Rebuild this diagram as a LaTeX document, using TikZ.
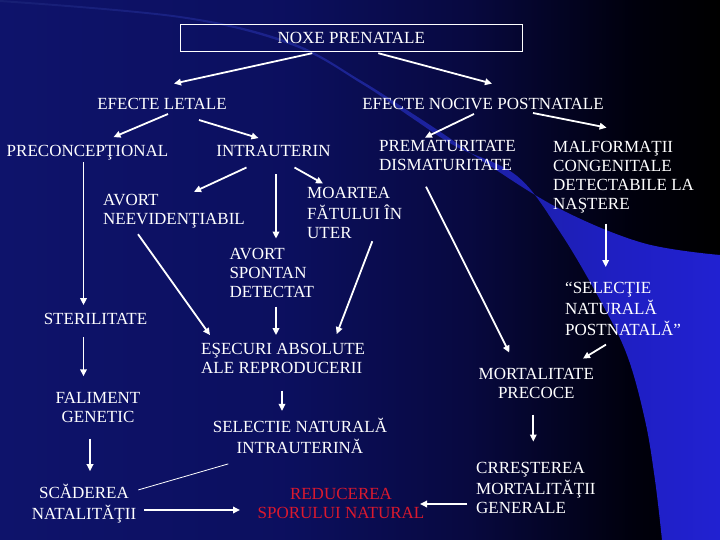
\documentclass[tikz,border=0pt]{standalone}
\usepackage{fontspec}
\setmainfont{Liberation Serif}
\usetikzlibrary{arrows.meta}
\definecolor{redtxt}{rgb}{0.86,0.10,0.18}
\pgfdeclarehorizontalshading{bgsh}{100bp}{rgb(0bp)=(0.055,0.075,0.42); rgb(25bp)=(0.055,0.075,0.42); rgb(45bp)=(0.045,0.06,0.37); rgb(57.5bp)=(0.03,0.035,0.25); rgb(69bp)=(0.0,0.0,0.05); rgb(75bp)=(0,0,0); rgb(100bp)=(0,0,0)}
\pgfdeclarehorizontalshading{bandsh}{100bp}{rgb(0bp)=(0.09,0.12,0.45); rgb(25bp)=(0.09,0.12,0.45); rgb(50bp)=(0.11,0.14,0.58); rgb(57.5bp)=(0.11,0.13,0.64); rgb(67.5bp)=(0.12,0.12,0.76); rgb(75bp)=(0.13,0.13,0.82); rgb(100bp)=(0.13,0.13,0.82)}
\begin{document}
\begin{tikzpicture}[x=1pt,y=-1pt,
  lbl/.style={text=white, font=\fontsize{17}{19}\selectfont, inner sep=0pt},
  lft/.style={lbl, align=left, anchor=west},
  ctr/.style={lbl, align=center},
  arr/.style={draw=white, line width=1.8pt, -{Triangle[length=7pt,width=6.5pt]}},
  thin/.style={draw=white, line width=0.8pt}]
\useasboundingbox (0,0) rectangle (720,540);
% background
\shade[shading=bgsh] (0,0) rectangle (720,540);
\shade[shading=bandsh] plot[smooth, tension=0.6] coordinates {(0,0) (180,16) (290,42) (360,80) (410,112) (445,135) (487,164) (560,209) (643,243) (720,255)}
  -- (720,540) -- plot[smooth, tension=0.6] coordinates {(662,540) (655,480) (645,420) (627,355) (600,300) (560,232) (517,176) (455,146) (412,118) (362,84) (291,45) (180,18) (0,2)} -- cycle;
% nodes
\node[lbl, draw=white, line width=0.8pt, minimum width=342pt, minimum height=27.6pt] (noxe) at (351.3,38) {NOXE PRENATALE};
\node[lbl] (el) at (162,105.3) {\strut EFECTE LETALE};
\node[lbl] (en) at (483,105.3) {\strut EFECTE NOCIVE POSTNATALE};
\node[lbl] (pre) at (87.5,152.8) {\strut PRECONCEPŢIONAL};
\node[lbl] (intra) at (273.5,152.8) {\strut INTRAUTERIN};
\node[lft] (prem) at (379,156.8) {\strut PREMATURITATE\\\strut DISMATURITATE};
\node[lft] (malf) at (553,176.8) {\strut MALFORMAŢII\\\strut CONGENITALE\\\strut DETECTABILE LA\\\strut NAŞTERE};
\node[lft] (aneev) at (103,211) {\strut AVORT\\\strut NEEVIDENŢIABIL};
\node[lft] (moart) at (307,214.4) {\strut MOARTEA\\\strut FĂTULUI ÎN\\\strut UTER};
\node[lft] (aspont) at (229.3,274.3) {\strut AVORT\\\strut SPONTAN\\\strut DETECTAT};
\node[lbl] (steril) at (95.5,320.8) {\strut STERILITATE};
\node[lft] (selpost) at (565,310.8) {\strut “SELECŢIE\\\strut NATURALĂ\\\strut POSTNATALĂ”};
\node[lft] (esec) at (201,360.3) {\strut EŞECURI ABSOLUTE\\\strut ALE REPRODUCERII};
\node[ctr] (mortp) at (536.3,384.8) {\strut MORTALITATE\\\strut PRECOCE};
\node[ctr] (falim) at (98,409) {\strut FALIMENT\\\strut GENETIC};
\node[ctr] (selintra) at (300,439) {\strut SELECTIE NATURALĂ\\\strut INTRAUTERINĂ};
\node[ctr] (scad) at (84,505) {\strut SCĂDEREA\\\strut NATALITĂŢII};
\node[ctr, text=redtxt] (reduc) at (341,505) {\strut REDUCEREA\\\strut SPORULUI NATURAL};
\node[lft] (crest) at (476,490.1) {\strut CRREŞTEREA\\\strut MORTALITĂŢII\\\strut GENERALE};
% connectors
\draw[arr] ([xshift=-39pt,yshift=-1pt]noxe.south) -- ([xshift=12pt,yshift=12pt]el.north);
\draw[arr] ([xshift=27pt,yshift=-1pt]noxe.south) -- ([xshift=9pt,yshift=12pt]en.north);
\draw[arr] ([xshift=6pt,yshift=1pt]el.south) -- ([xshift=26pt,yshift=6pt]pre.north);
\draw[arr] ([xshift=37pt,yshift=-5pt]el.south) -- ([xshift=-15pt,yshift=5pt]intra.north);
\draw[arr] ([xshift=-9pt,yshift=1pt]en.south) -- ([xshift=-22.5pt]prem.north);
\draw[arr] ([xshift=50pt,yshift=2pt]en.south) -- ([xshift=-17pt,yshift=11pt]malf.north);
\draw[arr] ([xshift=-4pt]pre.south) -- ([xshift=-12pt,yshift=6pt]steril.north);
\draw[arr] ([xshift=-27pt,yshift=-5pt]intra.south) -- ([xshift=20pt]aneev.north);
\draw[arr] ([xshift=2.5pt,yshift=-12pt]intra.south) -- ([xshift=46.7pt,yshift=7pt]aspont.north west);
\draw[arr] ([xshift=21pt,yshift=-5pt]intra.south) -- ([xshift=16pt,yshift=1pt]moart.north west);
\draw[arr] ([xshift=35pt,yshift=-4pt]aneev.south west) -- ([xshift=9pt,yshift=6pt]esec.north west);
\draw[arr] ([xshift=46.7pt,yshift=-3.5pt]aspont.south west) -- ([xshift=75pt,yshift=6pt]esec.north west);
\draw[arr] ([xshift=65.3pt,yshift=3pt]moart.south west) -- ([xshift=135.7pt,yshift=7pt]esec.north west);
\draw[arr] ([xshift=47pt,yshift=-10.7pt]prem.south west) -- ([xshift=-27pt,yshift=13pt]mortp.north);
\draw[arr] ([xshift=52.7pt,yshift=-8.7pt]malf.south west) -- ([xshift=40.7pt,yshift=13pt]selpost.north west);
\draw[arr] ([xshift=41pt,yshift=-3pt]selpost.south west) -- ([xshift=46.7pt,yshift=7pt]mortp.north);
\draw[arr] ([xshift=-12pt,yshift=-6.4pt]steril.south) -- ([xshift=-14.5pt,yshift=13.5pt]falim.north);
\draw[arr] ([xshift=81pt,yshift=-11.2pt]esec.south west) -- ([xshift=-18pt,yshift=7.3pt]selintra.north);
\draw[arr] ([xshift=-8pt,yshift=-10.5pt]falim.south) -- ([xshift=6pt,yshift=13pt]scad.north);
\draw[thin] ([xshift=54.3pt,yshift=-5.7pt]scad.north) -- ([xshift=-71.7pt,yshift=-4.1pt]selintra.south);
\draw[arr] ([xshift=60pt,yshift=-5pt]scad.center) -- ([xshift=-101pt,yshift=-5pt]reduc.center);
\draw[arr] ([xshift=-3pt,yshift=-10.7pt]mortp.south) -- ([xshift=57.3pt,yshift=18.8pt]crest.north west);
\draw[arr] ([xshift=-8.7pt,yshift=-13.9pt]crest.west) -- ([xshift=79pt,yshift=1pt]reduc.center);
\end{tikzpicture}
\end{document}
